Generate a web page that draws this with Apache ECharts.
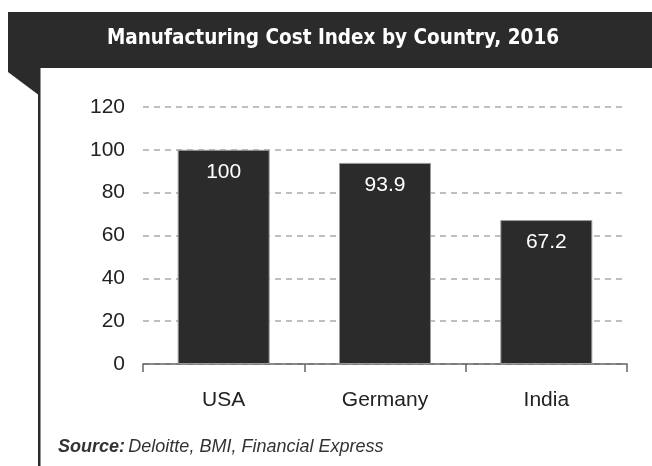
<!DOCTYPE html>
<html><head><meta charset="utf-8">
<script src="https://cdn.jsdelivr.net/npm/echarts@6/dist/echarts.min.js"></script>
<style>html,body{margin:0;padding:0;background:#fff}#c{width:652px;height:466px}</style>
</head><body><div id="c"></div>
<script>
const categories = ['USA', 'Germany', 'India'];
const values = [100, 93.9, 67.2];
const yTicks = [0, 20, 40, 60, 80, 100, 120];
const titleText = 'Manufacturing Cost Index by Country, 2016';

const chart = echarts.init(document.getElementById('c'));
chart.setOption({
  backgroundColor: '#fff',
  animation: false,
  graphic: [
    { type: 'rect', shape: { x: 8, y: 12, width: 644, height: 56 }, style: { fill: '#2b2b2b' } },
    { type: 'polygon', shape: { points: [[8, 67], [8, 72], [40, 96], [40, 67]] }, style: { fill: '#2b2b2b' } },
    { type: 'rect', shape: { x: 38, y: 67, width: 2.5, height: 399 }, style: { fill: '#2b2b2b' } },
    { type: 'text', x: 333, y: 39, style: { text: titleText, fill: '#fff', font: 'bold 20.5px "DejaVu Sans Condensed", sans-serif', align: 'center', verticalAlign: 'middle' } },
    { type: 'text', left: 58, top: 438, style: {
        text: '{b|Source:} {i|Deloitte, BMI, Financial Express}',
        rich: {
          b: { font: 'italic bold 18px "Liberation Sans"', fill: '#333' },
          i: { font: 'italic 18px "Liberation Sans"', fill: '#333' }
        } } }
  ],
  grid: { left: 143, right: 25, top: 107, bottom: 102 },
  xAxis: {
    type: 'category', data: categories,
    axisLine: { lineStyle: { color: '#666', width: 1.5 } },
    axisTick: { show: true, length: 8, lineStyle: { color: '#666', width: 1.5 } },
    axisLabel: { color: '#222', fontSize: 21, fontFamily: 'Liberation Sans', margin: 26 }
  },
  yAxis: {
    type: 'value', min: 0, max: 120, interval: 20,
    axisLine: { show: false }, axisTick: { show: false },
    axisLabel: { color: '#222', fontSize: 21, fontFamily: 'Liberation Sans', margin: 18,
      formatter: v => yTicks.includes(v) ? String(v) : '' },
    splitLine: { lineStyle: { color: '#aaa', type: [6, 5], width: 1.5 } }
  },
  series: [{
    type: 'bar', data: values, barWidth: '57%',
    itemStyle: { color: '#2b2b2b', borderColor: '#999', borderWidth: 1 },
    label: { show: true, position: 'insideTop', distance: 12, color: '#fff', fontSize: 21,
      fontFamily: 'Liberation Sans', formatter: p => String(p.value) }
  }]
});
</script></body></html>
